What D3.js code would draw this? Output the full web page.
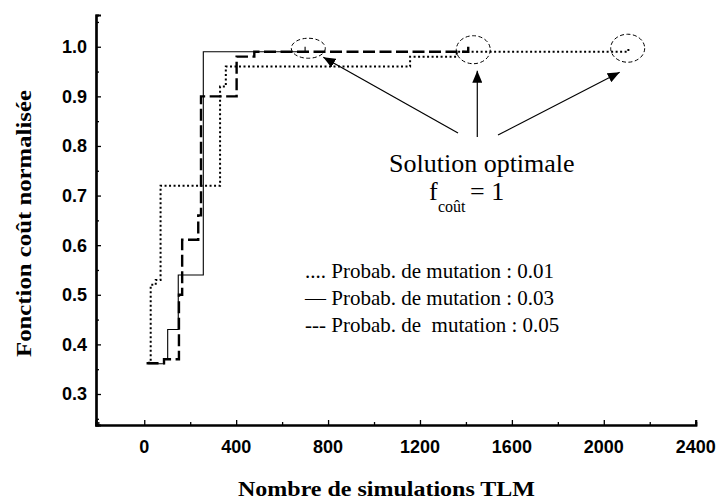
<!DOCTYPE html>
<html>
<head>
<meta charset="utf-8">
<script src="https://cdn.jsdelivr.net/npm/d3@7"></script>
<style>
  html, body { margin: 0; padding: 0; background: #fff; }
  svg { display: block; }
</style>
</head>
<body>
<svg id="chart" width="722" height="502"></svg>
<script>
// ---------- data ----------
const xTicks = [0, 400, 800, 1200, 1600, 2000, 2400];
const yTicks = [0.3, 0.4, 0.5, 0.6, 0.7, 0.8, 0.9, 1.0];
const xMinorTicks = [-200, 200, 600, 1000, 1400, 1800, 2200];
const yMinorTicks = [0.25, 0.35, 0.45, 0.55, 0.65, 0.75, 0.85, 0.95, 1.05];

// mutation probability 0.01 (dotted)
const xP001 = [17, 28, 50, 71, 330, 355, 1157, 1360, 2107];
const yP001 = [0.363, 0.52, 0.53, 0.72, 0.92, 0.96, 0.98, 0.99, 1.0];
// mutation probability 0.03 (solid)
const xP003 = [17, 86, 102, 148, 257, 700];
const yP003 = [0.361, 0.371, 0.43, 0.54, 0.99, 1.0];
// mutation probability 0.05 (dashed)
const xP005 = [10, 86, 151, 165, 235, 247, 402, 479, 1410];
const yP005 = [0.362, 0.37, 0.50, 0.611, 0.66, 0.90, 0.98, 0.99, 1.0];

const legendLabels = [
  ".... Probab. de mutation : 0.01",
  "\u2014 Probab. de mutation : 0.03",
  "--- Probab. de  mutation : 0.05"
];
// optimum markers (x in simulations, y in cost)
const optX = [714, 1432, 2104];
const optY = [0.997, 0.994, 0.997];

// ---------- drawing ----------
const svg = d3.select("#chart");
const x = d3.scaleLinear().domain([-210, 2400]).range([96, 695.7]);
const y = d3.scaleLinear().domain([0.2375, 1.064]).range([425, 15]);

const line = d3.line().x(d => x(d[0])).y(d => y(d[1])).curve(d3.curveStepAfter);
function pts(xs, ys) { return xs.map((v, i) => [v, ys[i]]); }

// axes
const xAxisMajor = d3.axisBottom(x).tickValues(xTicks).tickSize(-5).tickFormat("");
const xAxisMinor = d3.axisBottom(x).tickValues(xMinorTicks).tickSize(-3).tickFormat("");
const yAxisMajor = d3.axisLeft(y).tickValues(yTicks).tickSize(-5).tickFormat("");
const yAxisMinor = d3.axisLeft(y).tickValues(yMinorTicks).tickSize(-3).tickFormat("");

function styleAxis(g) {
  g.select(".domain").attr("stroke", "#000").attr("stroke-width", 2.2);
  g.selectAll(".tick line").attr("stroke", "#000").attr("stroke-width", 1.3);
}
svg.append("g").attr("transform", "translate(0,425)").call(xAxisMinor).call(styleAxis);
svg.append("g").attr("transform", "translate(0,425)").call(xAxisMajor).call(styleAxis);
svg.append("g").attr("transform", "translate(96,0)").call(yAxisMinor).call(styleAxis);
svg.append("g").attr("transform", "translate(96,0)").call(yAxisMajor).call(styleAxis);

// tick labels
svg.append("g").selectAll("text").data(xTicks).join("text")
  .attr("x", d => x(d)).attr("y", 453)
  .attr("text-anchor", "middle")
  .attr("font-family", "Liberation Sans, Arial, sans-serif")
  .attr("font-weight", "bold").attr("font-size", 18)
  .text(d => d);
svg.append("g").selectAll("text").data(yTicks).join("text")
  .attr("x", 87).attr("y", d => y(d) + 6.5)
  .attr("text-anchor", "end")
  .attr("font-family", "Liberation Sans, Arial, sans-serif")
  .attr("font-weight", "bold").attr("font-size", 18)
  .text(d => d.toFixed(1));

// axis titles
svg.append("text")
  .attr("x", 238).attr("y", 496)
  .attr("font-family", "Liberation Serif, Times New Roman, serif")
  .attr("font-weight", "bold").attr("font-size", 22)
  .attr("textLength", 297).attr("lengthAdjust", "spacingAndGlyphs")
  .text("Nombre de simulations TLM");
svg.append("text")
  .attr("transform", "translate(31,357) rotate(-90)")
  .attr("font-family", "Liberation Serif, Times New Roman, serif")
  .attr("font-weight", "bold").attr("font-size", 22)
  .attr("textLength", 267).attr("lengthAdjust", "spacingAndGlyphs")
  .text("Fonction coût normalisée");

// series
svg.append("path").datum(pts(xP003, yP003)).attr("d", line)
  .attr("fill", "none").attr("stroke", "#000").attr("stroke-width", 1.1);
svg.append("path").datum(pts(xP005, yP005)).attr("d", line)
  .attr("fill", "none").attr("stroke", "#000").attr("stroke-width", 2.4)
  .attr("stroke-dasharray", "12,4.5");
svg.append("path").datum(pts(xP001, yP001)).attr("d", line)
  .attr("fill", "none").attr("stroke", "#000").attr("stroke-width", 2)
  .attr("stroke-dasharray", "2,2.5");

// optimum ellipses
svg.append("g").selectAll("ellipse").data(optX).join("ellipse")
  .attr("cx", (d, i) => x(d)).attr("cy", (d, i) => y(optY[i]))
  .attr("rx", 17).attr("ry", (d, i) => i === 0 ? 10 : 14)
  .attr("fill", "none").attr("stroke", "#000").attr("stroke-width", 1)
  .attr("stroke-dasharray", "4,2.5");

// arrows
const defs = svg.append("defs");
defs.append("marker").attr("id", "ah")
  .attr("viewBox", "0 0 12 10").attr("refX", 12).attr("refY", 5)
  .attr("markerWidth", 12).attr("markerHeight", 10)
  .attr("markerUnits", "userSpaceOnUse").attr("orient", "auto")
  .append("path").attr("d", "M0,0 L12,5 L0,10 Z").attr("fill", "#000");

const arrowTails = [[458, 133], [477.3, 137], [498, 135]];
const arrowTipOffsets = [[15, 9], [4, 21], [-8, 24]];
svg.append("g").selectAll("line").data(optX).join("line")
  .attr("x1", (d, i) => arrowTails[i][0]).attr("y1", (d, i) => arrowTails[i][1])
  .attr("x2", (d, i) => x(d) + arrowTipOffsets[i][0])
  .attr("y2", (d, i) => y(optY[i]) + arrowTipOffsets[i][1])
  .attr("stroke", "#000").attr("stroke-width", 1.2)
  .attr("marker-end", "url(#ah)");

// annotation text
const serif = "Liberation Serif, Times New Roman, serif";
svg.append("text").attr("x", 389).attr("y", 172)
  .attr("font-family", serif).attr("font-size", 26)
  .text("Solution optimale");
svg.append("text").attr("x", 429).attr("y", 200)
  .attr("font-family", serif).attr("font-size", 26)
  .text("f");
svg.append("text").attr("x", 438).attr("y", 212)
  .attr("font-family", serif).attr("font-size", 16)
  .text("coût");
svg.append("text").attr("x", 470).attr("y", 200)
  .attr("font-family", serif).attr("font-size", 26)
  .text("= 1");

// legend text
svg.append("g").selectAll("text").data(legendLabels).join("text")
  .attr("x", 305).attr("y", (d, i) => 278 + i * 27)
  .attr("font-family", serif).attr("font-size", 21)
  .style("white-space", "pre")
  .text(d => d);
</script>
</body>
</html>
